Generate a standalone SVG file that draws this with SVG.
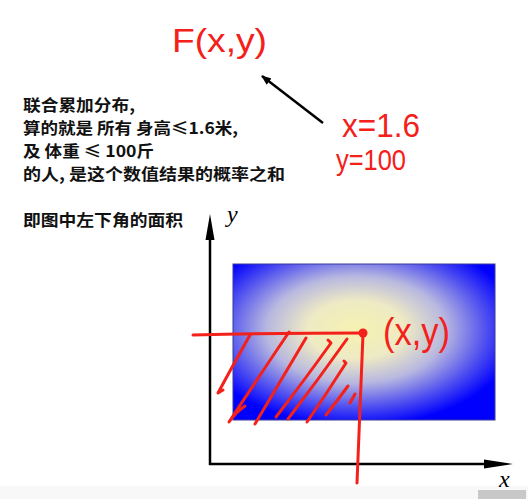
<svg xmlns="http://www.w3.org/2000/svg" width="528" height="499" viewBox="0 0 528 499">
<defs>
<style>
.cn{font-family:"Noto Sans CJK SC","Liberation Sans",sans-serif;font-weight:bold;font-size:16px;fill:#111}
.hw{font-family:"Liberation Sans","DejaVu Sans",sans-serif;fill:#f4201a}
.ax{stroke:#000;stroke-width:2.5;fill:none}
.lbl{font-family:"Liberation Serif","DejaVu Serif",serif;font-style:italic;font-size:24px;fill:#000}
.red{stroke:#f4201a;stroke-width:3;fill:none;stroke-linecap:round;stroke-linejoin:round}
</style>
<radialGradient id="g" cx="0.47" cy="0.42" r="0.62" fx="0.47" fy="0.42">
<stop offset="0" stop-color="#f6f2b0"/>
<stop offset="0.3" stop-color="#eeeac4"/>
<stop offset="0.55" stop-color="#b8b8e0"/>
<stop offset="0.8" stop-color="#5050f0"/>
<stop offset="1" stop-color="#0000ff"/>
</radialGradient>
<marker id="ah" markerWidth="10" markerHeight="8" refX="9" refY="4" orient="auto" markerUnits="userSpaceOnUse">
<path d="M0,0 L10,4 L0,8 Z" fill="#000"/>
</marker>
</defs>
<rect x="0" y="0" width="528" height="499" fill="#fff"/>
<rect x="0" y="486" width="528" height="13" fill="#f8f8f8"/>
<rect x="478" y="490" width="48" height="9" fill="#c8c8c8"/>

<g id="text-block">
<text class="cn" x="23" y="111" textLength="112" lengthAdjust="spacingAndGlyphs">联合累加分布,</text>
<text class="cn" x="23" y="134" textLength="215" lengthAdjust="spacingAndGlyphs">算的就是 所有 身高≤1.6米,</text>
<text class="cn" x="23" y="157" textLength="131" lengthAdjust="spacingAndGlyphs">及 体重 ≤ 100斤</text>
<text class="cn" x="23" y="180" textLength="262" lengthAdjust="spacingAndGlyphs">的人, 是这个数值结果的概率之和</text>
<text class="cn" x="23" y="226" textLength="160" lengthAdjust="spacingAndGlyphs">即图中左下角的面积</text>
</g>

<g id="F-label">
<text class="hw" x="172" y="52" font-size="34" textLength="95" lengthAdjust="spacingAndGlyphs">F(x,y)</text>
</g>

<g id="values">
<text class="hw" x="342" y="137" font-size="34" textLength="78" lengthAdjust="spacingAndGlyphs">x=1.6</text>
<text class="hw" x="336" y="170" font-size="30" textLength="70" lengthAdjust="spacingAndGlyphs">y=100</text>
</g>

<g id="plot">
<rect id="density" x="233" y="264" width="262" height="156" fill="url(#g)" stroke="#3a3a9a" stroke-width="1"/>
<text class="lbl" x="227" y="222">y</text>
<text class="lbl" x="499" y="487" font-size="22">x</text>
</g>

<g id="connectors">
<line class="ax" x1="210" y1="465" x2="210" y2="237"/>
<path d="M210,214 L214.5,240 L205.5,240 Z" fill="#000"/>
<line class="ax" x1="209" y1="464" x2="486" y2="464"/>
<path d="M513,464 L484,459.5 L484,468.5 Z" fill="#000"/>
<line x1="323" y1="123" x2="262" y2="76" stroke="#000" stroke-width="2.5" marker-end="url(#ah)"/>
</g>

<g id="region">
<path class="red" d="M193,335 Q280,333 363,333"/>
<path class="red" d="M363,334 Q360,410 357,483"/>
<circle cx="363" cy="333" r="4.5" fill="#f4201a"/>
<path class="red" d="M250,335 Q233,365 218,393 L223,390"/>
<path class="red" d="M289,332 Q258,378 229,422 Q236,412 245,406"/>
<path class="red" d="M306,338 Q280,382 255,424"/>
<path class="red" d="M328,340 L331,343 Q303,382 276,417"/>
<path class="red" d="M347,339 Q318,380 288,419"/>
<path class="red" d="M344,361 L346,363 Q327,393 307,422"/>
<path class="red" d="M348,386 Q337,401 326,415"/>
<path class="red" d="M355,394 L350,403"/>
<text class="hw" x="383" y="345" font-size="38" textLength="67" lengthAdjust="spacingAndGlyphs">(x,y)</text>
</g>
</svg>
